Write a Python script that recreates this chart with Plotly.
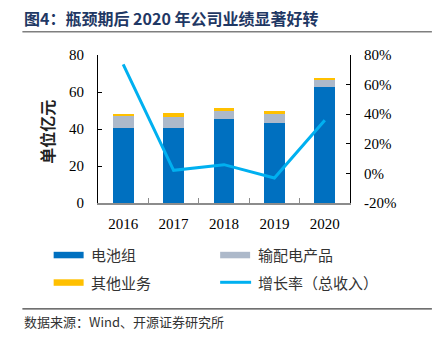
import plotly.graph_objects as go

# Revenue breakdown (亿元) and total revenue growth (%)
years = ["2016", "2017", "2018", "2019", "2020"]
battery_pack = [40.8, 40.5, 45.6, 43.4, 62.7]
power_dist = [6.4, 6.0, 4.3, 4.9, 3.6]
other_biz = [0.9, 2.0, 1.5, 1.4, 1.3]
growth_pct = [73.7, 2.1, 5.9, -3.1, 35.9]

# right-axis ticks (plain hyphen for the negative label)
pct_ticks = [-20, 0, 20, 40, 60, 80]
pct_labels = ["-20%", "0%", "20%", "40%", "60%", "80%"]

names = ["电池组", "输配电产品", "其他业务", "增长率（总收入）"]
colors = ["#0070C0", "#ADB9CA", "#FFC000", "#00B0F0"]

serif = "Liberation Serif"
cjk = "Noto Sans CJK SC"

fig = go.Figure()
for vals, name, col in zip([battery_pack, power_dist, other_biz], names[:3], colors[:3]):
    fig.add_trace(go.Bar(x=years, y=vals, name=name, marker_color=col,
                         marker_line_width=0, yaxis="y"))
fig.add_trace(go.Scatter(x=years, y=growth_pct, name=names[3], mode="lines",
                         line=dict(color=colors[3], width=3), yaxis="y2"))

W, H = 441, 342
L, R, T, B = 97.7, 350.0, 54.7, 202.7

fig.update_layout(
    width=W, height=H,
    margin=dict(l=L, r=W - R, t=T, b=H - B, pad=0),
    paper_bgcolor="white", plot_bgcolor="white",
    barmode="stack", bargap=0.585,
    showlegend=False,
    xaxis=dict(type="category", showline=True, linecolor="#8C8C8C", linewidth=2,
               ticks="inside", tickson="boundaries", ticklen=5, tickcolor="#8C8C8C",
               tickfont=dict(family=serif, size=15, color="black"),
               showgrid=False, zeroline=False, ticklabelstandoff=6),
    yaxis=dict(range=[0, 80], dtick=20, showline=True, linecolor="black", linewidth=1,
               ticks="inside", ticklen=4, tickcolor="black",
               tickfont=dict(family=serif, size=15, color="black"),
               showgrid=False, zeroline=False, ticklabelstandoff=10),
    yaxis2=dict(range=[-20, 80], tickvals=pct_ticks, ticktext=pct_labels,
                overlaying="y", side="right",
                showline=True, linecolor="black", linewidth=1,
                ticks="inside", ticklen=4, tickcolor="black",
                tickfont=dict(family=serif, size=15, color="black"),
                showgrid=False, zeroline=False, ticklabelstandoff=10),
)

# paper coordinates are relative to the plot area; convert from page pixels
def px_x(v):
    return (v - L) / (R - L)

def px_y(v):
    return (B - v) / (B - T)

shapes = []
annots = []

# Title and rules
annots.append(dict(text="<b>图4：瓶颈期后 2020 年公司业绩显著好转</b>", x=px_x(22), y=px_y(18),
                   xref="paper", yref="paper", xanchor="left", yanchor="middle",
                   showarrow=False, font=dict(family=cjk, size=16, color="#1F3864")))
shapes.append(dict(type="line", xref="paper", yref="paper", x0=px_x(22), x1=px_x(432),
                   y0=px_y(31.5), y1=px_y(31.5), line=dict(color="#7F7F7F", width=1.5)))
shapes.append(dict(type="line", xref="paper", yref="paper", x0=px_x(22), x1=px_x(432),
                   y0=px_y(308.5), y1=px_y(308.5), line=dict(color="#404040", width=1.2)))
annots.append(dict(text="数据来源：Wind、开源证券研究所", x=px_x(22), y=px_y(321),
                   xref="paper", yref="paper", xanchor="left", yanchor="middle",
                   showarrow=False, font=dict(family=cjk, size=13, color="#333")))

# Y axis title
annots.append(dict(text="<b>单位亿元</b>", x=px_x(47), y=px_y(131), textangle=-90,
                   xref="paper", yref="paper", xanchor="center", yanchor="middle",
                   showarrow=False, font=dict(family=cjk, size=16, color="#222")))

# Legend
legend_pos = [(53.3, 254.5), (220, 254.5), (53.3, 282), (220, 282)]
for i, ((lx, ly), name, col) in enumerate(zip(legend_pos, names, colors)):
    if i < 3:
        shapes.append(dict(type="rect", xref="paper", yref="paper",
                           x0=px_x(lx), x1=px_x(lx + 30), y0=px_y(ly - 3), y1=px_y(ly + 3.5),
                           fillcolor=col, line=dict(width=0)))
    else:
        shapes.append(dict(type="line", xref="paper", yref="paper",
                           x0=px_x(lx), x1=px_x(lx + 31), y0=px_y(ly), y1=px_y(ly),
                           line=dict(color=col, width=3)))
    annots.append(dict(text=name, x=px_x(lx + 35.5), y=px_y(ly), xref="paper", yref="paper",
                       xanchor="left", yanchor="middle", showarrow=False,
                       font=dict(family=cjk, size=15, color="#333")))

fig.update_layout(shapes=shapes, annotations=annots)
fig.write_html("out.html")
